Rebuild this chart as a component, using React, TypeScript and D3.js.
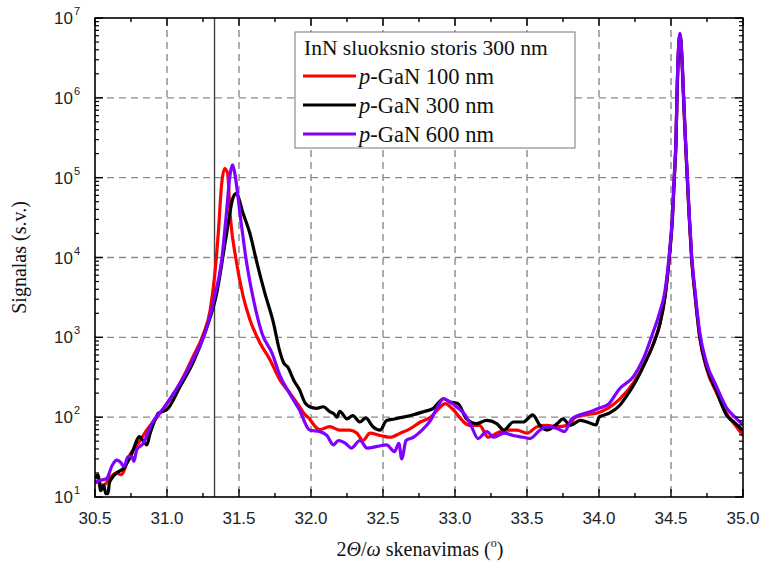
import * as d3 from 'd3';

// 2θ/ω angle (deg), signal (a.u.)
const gan100: [number, number][] = [
  [30.5, 16], [30.53, 15], [30.558, 14], [30.6, 17], [30.65, 20], [30.68, 19], [30.743, 34],
  [30.8, 47], [30.86, 69], [30.93, 100], [31.0, 148], [31.09, 265], [31.18, 570], [31.25, 1070],
  [31.3, 2200], [31.33, 5700], [31.356, 20000], [31.38, 85000], [31.4, 130000], [31.42, 115000],
  [31.44, 32000], [31.48, 9300], [31.53, 3200], [31.576, 1660], [31.646, 850], [31.715, 525],
  [31.785, 290], [31.854, 200], [31.92, 135], [31.95, 112], [31.99, 95], [32.02, 80], [32.06, 70],
  [32.13, 76], [32.2, 69], [32.27, 69], [32.32, 63], [32.36, 51], [32.41, 63], [32.48, 59],
  [32.55, 56], [32.62, 63], [32.69, 72], [32.76, 87], [32.83, 100], [32.9, 135], [32.93, 148],
  [32.99, 123], [33.05, 91], [33.1, 79], [33.17, 79], [33.23, 56], [33.29, 63], [33.36, 69],
  [33.43, 69], [33.5, 63], [33.57, 76], [33.64, 79], [33.71, 76], [33.78, 79], [33.84, 100],
  [33.91, 107], [33.98, 112], [34.06, 129], [34.14, 166], [34.24, 270], [34.33, 525],
  [34.38, 850], [34.424, 1500], [34.458, 3200], [34.488, 10000], [34.51, 31600], [34.523, 100000],
  [34.535, 300000], [34.541, 930000], [34.551, 3600000], [34.5625, 6200000], [34.574, 3600000],
  [34.588, 930000], [34.6, 300000], [34.613, 100000], [34.627, 31600], [34.643, 10000],
  [34.667, 3400], [34.7, 1000], [34.748, 400], [34.817, 200], [34.887, 110], [34.944, 80], [35.0, 59],
];

const gan300: [number, number][] = [
  [30.5, 17], [30.52, 19], [30.54, 12], [30.56, 14], [30.575, 11], [30.59, 11], [30.6, 15],
  [30.615, 17], [30.65, 20], [30.7, 23], [30.75, 33], [30.81, 57], [30.83, 52], [30.86, 45],
  [30.88, 60], [30.92, 95], [30.94, 112], [30.97, 118], [31.0, 125], [31.09, 240], [31.18, 480],
  [31.27, 1230], [31.345, 3550], [31.41, 18000], [31.46, 57000], [31.48, 63000], [31.53, 35000],
  [31.576, 20000], [31.62, 9300], [31.68, 3550], [31.74, 1500], [31.78, 700], [31.81, 480],
  [31.84, 420], [31.88, 290], [31.92, 220], [31.96, 150], [31.99, 135], [32.04, 129],
  [32.085, 135], [32.13, 117], [32.16, 110], [32.18, 100], [32.2, 118], [32.25, 95], [32.29, 105],
  [32.34, 87], [32.38, 98], [32.43, 76], [32.48, 69], [32.525, 91], [32.58, 95], [32.64, 100],
  [32.71, 107], [32.78, 117], [32.85, 129], [32.92, 170], [32.965, 155], [33.02, 148],
  [33.08, 95], [33.15, 83], [33.22, 91], [33.29, 83], [33.34, 69], [33.405, 87], [33.475, 87],
  [33.54, 107], [33.59, 79], [33.64, 69], [33.71, 83], [33.75, 95], [33.8, 79], [33.87, 91],
  [33.94, 84], [33.98, 80], [34.0, 100], [34.07, 112], [34.14, 138], [34.19, 182], [34.26, 290],
  [34.33, 525], [34.38, 850], [34.424, 1500], [34.458, 3200], [34.488, 10000], [34.51, 31600],
  [34.523, 100000], [34.535, 300000], [34.541, 930000], [34.551, 3600000], [34.5625, 6000000],
  [34.574, 3600000], [34.588, 930000], [34.6, 300000], [34.613, 100000], [34.627, 31600],
  [34.643, 10000], [34.667, 3400], [34.7, 1000], [34.748, 420], [34.817, 210], [34.887, 105],
  [34.944, 85], [35.0, 68],
];

const gan600: [number, number][] = [
  [30.5, 15], [30.53, 16], [30.58, 17], [30.62, 25], [30.65, 29], [30.68, 27], [30.7, 24],
  [30.73, 32], [30.755, 32], [30.77, 28], [30.79, 39], [30.835, 47], [30.894, 83], [30.975, 129],
  [31.09, 265], [31.18, 525], [31.27, 1230], [31.33, 3200], [31.38, 9300], [31.41, 32000],
  [31.44, 115000], [31.455, 145000], [31.47, 115000], [31.51, 32000], [31.55, 9300], [31.6, 3000],
  [31.66, 1120], [31.73, 630], [31.785, 330], [31.85, 200], [31.92, 123], [31.99, 69],
  [32.06, 66], [32.11, 59], [32.155, 45], [32.19, 51], [32.24, 47], [32.28, 41], [32.34, 51],
  [32.39, 41], [32.46, 43], [32.525, 45], [32.58, 37], [32.61, 47], [32.63, 30], [32.66, 51],
  [32.71, 56], [32.76, 66], [32.83, 91], [32.885, 141], [32.92, 170], [32.965, 155], [33.01, 135],
  [33.07, 107], [33.115, 76], [33.16, 54], [33.22, 66], [33.27, 56], [33.34, 63], [33.405, 59],
  [33.475, 56], [33.52, 54], [33.59, 69], [33.64, 76], [33.71, 72], [33.76, 66], [33.81, 95],
  [33.87, 107], [33.94, 117], [34.0, 129], [34.07, 148], [34.14, 224], [34.24, 324],
  [34.305, 525], [34.375, 1150], [34.42, 2000], [34.458, 3800], [34.488, 11000], [34.51, 34000],
  [34.523, 110000], [34.535, 320000], [34.541, 1000000], [34.551, 3800000], [34.5625, 6400000],
  [34.574, 3800000], [34.588, 1000000], [34.6, 320000], [34.613, 110000], [34.627, 34000],
  [34.643, 11000], [34.667, 3800], [34.7, 1150], [34.748, 470], [34.817, 240], [34.887, 130],
  [34.944, 100], [35.0, 80],
];

const seriesNames = ['100 nm', '300 nm', '600 nm'];
const seriesColors = ['#ff0000', '#000000', '#8000ff'];
const legendTitle = 'InN sluoksnio storis 300 nm';
const xTicks = [30.5, 31.0, 31.5, 32.0, 32.5, 33.0, 33.5, 34.0, 34.5, 35.0];
const yExponents = [1, 2, 3, 4, 5, 6, 7];
const markerAngle = 31.33;

const W = 763;
const H = 569;
const margin = { top: 18, right: 20, bottom: 72, left: 95 };

export default function App() {
  const x = d3.scaleLinear().domain([30.5, 35]).range([margin.left, W - margin.right]);
  const y = d3.scaleLog().domain([10, 1e7]).range([H - margin.bottom, margin.top]);
  const [x0, x1] = x.range();
  const [y0, y1] = y.range();

  const line = d3.line<[number, number]>()
    .x(d => x(d[0]))
    .y(d => y(d[1]))
    .curve(d3.curveMonotoneX);

  const data = [gan100, gan300, gan600];

  const minorX = d3.range(30.75, 35, 0.5);
  const minorY: number[] = [];
  yExponents.slice(0, -1).forEach(e => {
    for (let k = 2; k <= 9; k++) minorY.push(k * Math.pow(10, e));
  });

  const grid = '#8a8a8a';
  const sans = 'Arial, "Liberation Sans", sans-serif';
  const serif = '"Times New Roman", "Liberation Serif", serif';

  const lgX = 295;
  const lgY = 32;

  return (
    <svg width={W} height={H} style={{ position: 'absolute', left: 0, top: 0, background: '#fff' }}>
      <defs>
        <clipPath id="plotClip">
          <rect x={x0} y={y1} width={x1 - x0} height={y0 - y1} />
        </clipPath>
      </defs>

      {/* grid */}
      {xTicks.slice(1, -1).map(t => (
        <line key={'gx' + t} x1={x(t)} x2={x(t)} y1={y1} y2={y0}
          stroke={grid} strokeWidth={1.4} strokeDasharray="7,5" />
      ))}
      {yExponents.slice(1, -1).map(e => (
        <line key={'gy' + e} x1={x0} x2={x1} y1={y(Math.pow(10, e))} y2={y(Math.pow(10, e))}
          stroke={grid} strokeWidth={1.4} strokeDasharray="7,5" />
      ))}

      {/* marker line */}
      <line x1={x(markerAngle)} x2={x(markerAngle)} y1={y1} y2={y0} stroke="#444" strokeWidth={1.4} />

      {/* curves */}
      <g clipPath="url(#plotClip)">
        {data.map((d, i) => (
          <path key={i} d={line(d) || ''} fill="none" stroke={seriesColors[i]}
            strokeWidth={3.2} strokeLinejoin="round" />
        ))}
      </g>

      {/* frame */}
      <rect x={x0} y={y1} width={x1 - x0} height={y0 - y1} fill="none" stroke="#000" strokeWidth={1.6} />

      {/* x ticks */}
      {xTicks.map(t => (
        <g key={'xt' + t}>
          <line x1={x(t)} x2={x(t)} y1={y0} y2={y0 - 8} stroke="#000" strokeWidth={1.4} />
          <line x1={x(t)} x2={x(t)} y1={y1} y2={y1 + 8} stroke="#000" strokeWidth={1.4} />
          <text x={x(t)} y={y0 + 27} textAnchor="middle" fontFamily={sans} fontSize={17} fill="#222">
            {t.toFixed(1)}
          </text>
        </g>
      ))}
      {minorX.map(t => (
        <g key={'xm' + t}>
          <line x1={x(t)} x2={x(t)} y1={y0} y2={y0 - 4} stroke="#000" strokeWidth={1.4} />
          <line x1={x(t)} x2={x(t)} y1={y1} y2={y1 + 4} stroke="#000" strokeWidth={1.4} />
        </g>
      ))}

      {/* y ticks */}
      {yExponents.map(e => {
        const yy = y(Math.pow(10, e));
        return (
          <g key={'yt' + e}>
            <line x1={x0} x2={x0 + 8} y1={yy} y2={yy} stroke="#000" strokeWidth={1.4} />
            <line x1={x1} x2={x1 - 8} y1={yy} y2={yy} stroke="#000" strokeWidth={1.4} />
            <text x={x0 - 22} y={yy + 6} textAnchor="end" fontFamily={sans} fontSize={17} fill="#222">10</text>
            <text x={x0 - 21} y={yy - 3} textAnchor="start" fontFamily={sans} fontSize={11} fill="#222">{e}</text>
          </g>
        );
      })}
      {minorY.map(v => (
        <g key={'ym' + v}>
          <line x1={x0} x2={x0 + 4} y1={y(v)} y2={y(v)} stroke="#000" strokeWidth={1.2} />
          <line x1={x1} x2={x1 - 4} y1={y(v)} y2={y(v)} stroke="#000" strokeWidth={1.2} />
        </g>
      ))}

      {/* axis titles */}
      <text x={420} y={556} textAnchor="middle" fontFamily={serif} fontSize={20} fill="#111">
        2<tspan fontStyle="italic">Θ</tspan>/<tspan fontStyle="italic">ω</tspan> skenavimas (
        <tspan fontSize={12} dy={-9}>o</tspan><tspan dy={9}>)</tspan>
      </text>
      <text transform={`translate(26,${(y0 + y1) / 2}) rotate(-90)`} textAnchor="middle"
        fontFamily={serif} fontSize={20} fill="#111">Signalas (s.v.)</text>

      {/* legend */}
      <rect x={lgX} y={lgY} width={280} height={116} fill="#fff" stroke="#777" strokeWidth={1} />
      <text x={lgX + 9} y={lgY + 23} fontFamily={serif} fontSize={21.5} fill="#111">{legendTitle}</text>
      {seriesNames.map((n, i) => {
        const ly = lgY + 44 + i * 29;
        return (
          <g key={'lg' + i}>
            <line x1={lgX + 8} x2={lgX + 61} y1={ly} y2={ly} stroke={seriesColors[i]} strokeWidth={3} />
            <text x={lgX + 64} y={ly + 7.5} fontFamily={serif} fontSize={22.5} fill="#111">
              <tspan fontStyle="italic">p</tspan>-GaN {n}
            </text>
          </g>
        );
      })}
    </svg>
  );
}
